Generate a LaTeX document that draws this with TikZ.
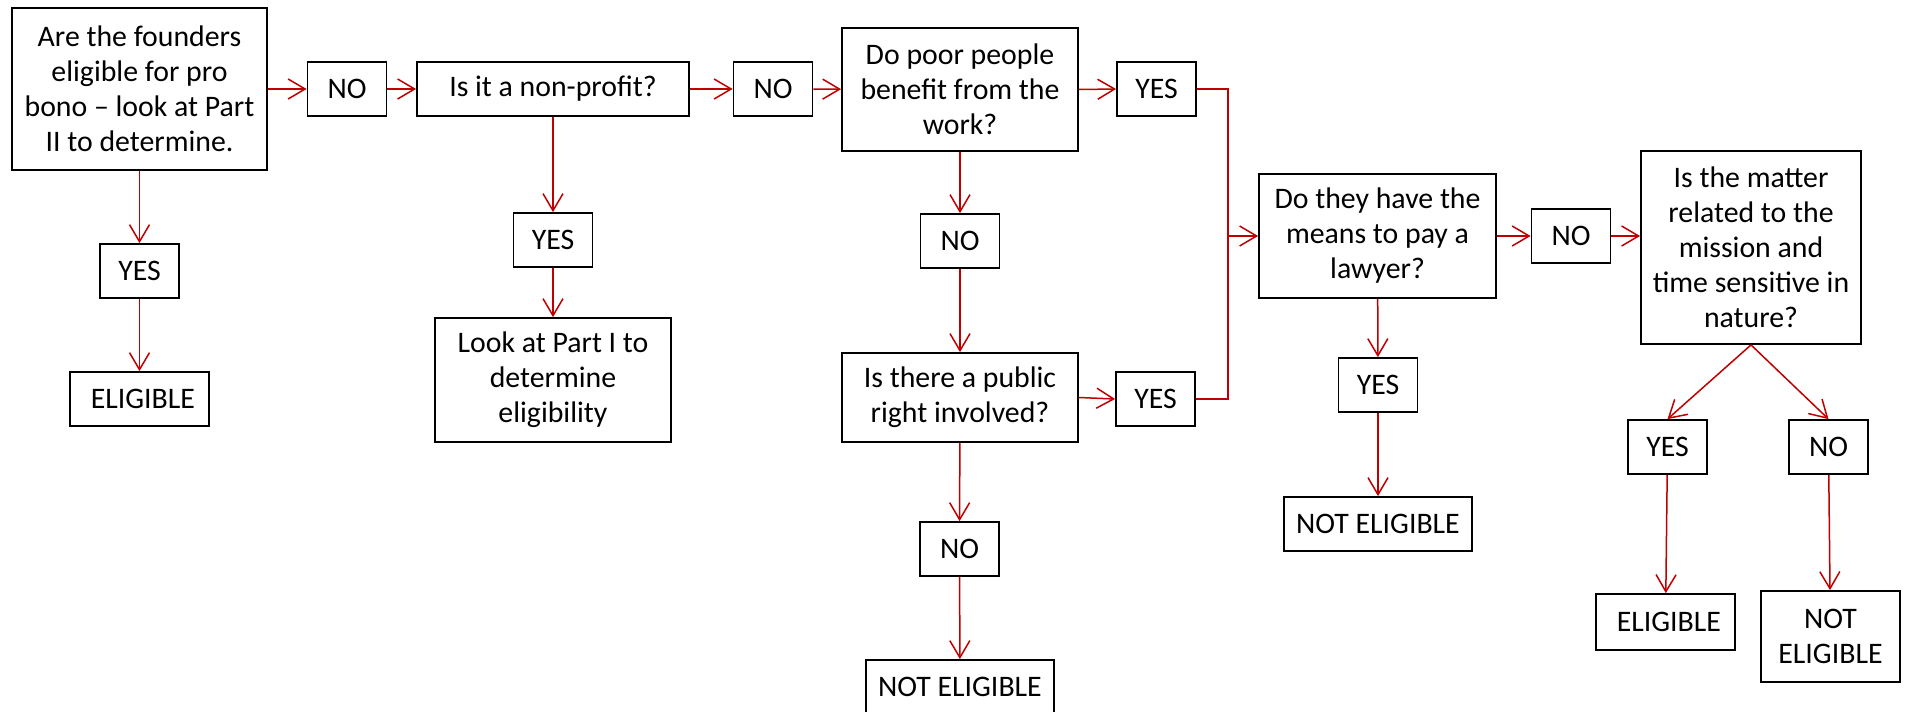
\documentclass[tikz,border=0pt]{standalone}
\usepackage{fontspec}
\setmainfont{Carlito}
\usepackage{xcolor}
\usepackage{tikz}
\usetikzlibrary{arrows.meta}
\definecolor{flowred}{RGB}{192,0,0}

\begin{document}
\begin{tikzpicture}[x=0.5pt, y=-0.5pt,
  box/.style={draw, line width=0.9pt, inner sep=0pt, align=center, font=\fontsize{14.9}{17.5}\selectfont},
  answer/.style={box, minimum width=39.5pt, minimum height=27pt},
  flow/.style={draw=flowred, line width=0.75pt, -{Straight Barb[length=8.5pt,width=10pt]}}]
\useasboundingbox (0,0) rectangle (1907,712);
% Define the entities
\node (founders) at (139.5,89) [box, minimum width=127.5pt, minimum height=81pt] {Are the founders\\eligible for pro\\bono -- look at Part\\II to determine.};
\node (no1) at (347,89) [answer] {NO};
\node (nonprofit) at (553,89) [box, minimum width=136pt, minimum height=27pt] {Is it a non-profit?};
\node (no2) at (773,89) [answer] {NO};
\node (poor) at (960,89.5) [box, minimum width=118pt, minimum height=61.5pt] {Do poor people\\benefit from the\\work?};
\node (yes3) at (1156.5,89) [answer] {YES};
\node (means) at (1377.5,236) [box, minimum width=118.5pt, minimum height=62pt] {Do they have the\\means to pay a\\lawyer?};
\node (no4) at (1571,236) [answer] {NO};
\node (matter) at (1751,247.5) [box, minimum width=110pt, minimum height=96.5pt] {Is the matter\\related to the\\mission and\\time sensitive in\\nature?};

\node (yes1) at (139.5,271) [answer] {YES};
\node (elig1) at (139.5,399) [box, minimum width=69.5pt, minimum height=27pt] {\ ELIGIBLE};
\node (yes2) at (553,240) [answer] {YES};
\node (look) at (553,380) [box, minimum width=118pt, minimum height=62pt] {Look at Part I to\\determine\\eligibility};
\node (no3) at (960,241) [answer] {NO};
\node (public) at (960,397.5) [box, minimum width=118pt, minimum height=44.5pt] {Is there a public\\right involved?};
\node (yes4) at (1155.5,399) [answer] {YES};
\node (no5) at (959.5,549) [answer] {NO};
\node (notelig1) at (960,687) [box, minimum width=94pt, minimum height=27pt] {NOT ELIGIBLE};
\node (yes5) at (1378,385) [answer] {YES};
\node (notelig2) at (1378,524) [box, minimum width=94pt, minimum height=27pt] {NOT ELIGIBLE};
\node (yes6) at (1667.5,447) [answer] {YES};
\node (no6) at (1828.5,447) [answer] {NO};
\node (elig2) at (1665.5,622) [box, minimum width=69.5pt, minimum height=28pt] {\ ELIGIBLE};
\node (notelig3) at (1830.5,636.5) [box, minimum width=69.5pt, minimum height=45.5pt] {NOT\\ELIGIBLE};
\coordinate (join) at (1228,236);

% Top row
\draw [flow] (founders.east) -- (no1.west);
\draw [flow] (no1) -- (nonprofit);
\draw [flow] (nonprofit) -- (no2);
\draw [flow] (no2) -- (poor);
\draw [flow] (poor.east) -- (yes3.west);
\draw [draw=flowred, line width=0.75pt] (yes3.east) -| (join);
\draw [draw=flowred, line width=0.75pt] (yes4.east) -| (join);
\draw [flow] (join) -- (means.west);
\draw [flow] (means) -- (no4);
\draw [flow] (no4.east) -- (no4.east -| matter.west);

% Branches down
\draw [flow] (founders) -- (yes1);
\draw [flow] (yes1) -- (elig1);
\draw [flow] (nonprofit) -- (yes2);
\draw [flow] (yes2) -- (look);
\draw [flow] (poor) -- (no3);
\draw [flow] (no3) -- (public);
\draw [flow] (public.east) -- (yes4.west);
\draw [flow] (public) -- (no5);
\draw [flow] (no5) -- (notelig1);
\draw [flow] (means) -- (yes5);
\draw [flow] (yes5) -- (notelig2);
\draw [flow] (matter.south) -- (yes6.north);
\draw [flow] (matter.south) -- (no6.north);
\draw [flow] (yes6) -- (elig2);
\draw [flow] (no6) -- (notelig3);
\end{tikzpicture}
\end{document}
